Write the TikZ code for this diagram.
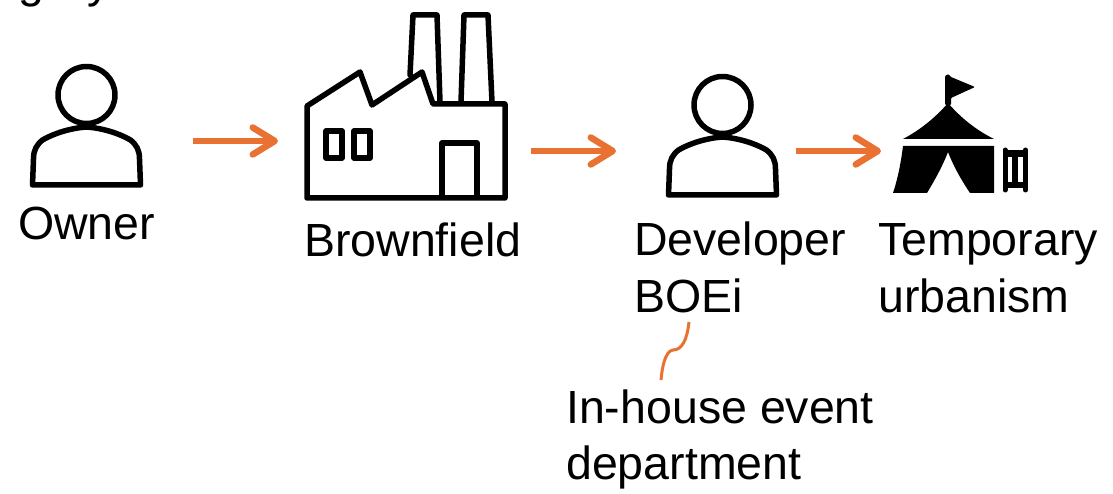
\documentclass[tikz,border=0pt]{standalone}
\usepackage{fontspec}
\setmainfont{Liberation Sans}
\usetikzlibrary{arrows.meta}
\definecolor{flowcolor}{HTML}{E97132}
\tikzset{
  label/.style={anchor=base west,inner sep=0pt,align=left,font=\fontsize{46.5}{56}\selectfont},
  icon/.style={draw=black,line width=5.5pt,line join=round,line cap=round},
  flow/.style={draw=flowcolor,line width=6.5pt,-{Straight Barb[length=22pt,width=27pt,round]}},
  personicon/.pic={
    \draw[icon] (0,0) circle (28.5) ;
    \draw[icon] (-54,90) -- (-53,64) .. controls (-53,55) and (-50,50) .. (-44,45)
      .. controls (-32,38) and (-15,33) .. (0,32)
      .. controls (15,33) and (32,38) .. (44,45)
      .. controls (50,50) and (53,55) .. (53,64) -- (54,90) -- cycle ;
  }
}
\begin{document}
\begin{tikzpicture}[x=1pt,y=-1pt]
    \useasboundingbox (0,0) rectangle (1113,494) ;

    % cut off by the top edge
    \node[label] (topg) at (18,-2) {g} ;
    \node[label] (topy) at (87,-2) {y} ;

    % owner
    \pic at (86.5,95) {personicon} ;
    \node[label] (owner) at (18,240) {Owner} ;

    % brownfield
    \draw[icon] (307,106) -- (360,72) -- (372,105) -- (422,72) -- (433,104) -- (505,104) -- (505,198) -- (307,198) -- cycle ;
    \draw[icon] (410,75) -- (413,15) -- (437,15) -- (440,102) ;
    \draw[icon] (461,102) -- (464,15) -- (488,15) -- (492,102) ;
    \draw[icon] (326,131) rectangle (342,158) ;
    \draw[icon] (354,131) rectangle (370,158) ;
    \draw[icon] (442,197) -- (442,143) -- (477,143) -- (477,197) ;
    \node[label] (brownfield) at (304,257) {Brownfield} ;

    % developer
    \pic at (722.5,105) {personicon} ;
    \node[label] (developer) at (634,312) {Developer\\BOEi} ;
    \node[label] (inhouse) at (566,479) {In-house event\\department} ;

    % tent
    \fill[rounded corners=1pt] (945,76) -- (945,105) -- (951,105) -- (951,98) -- (975,87) -- (951,77) -- (948,74) -- cycle ;
    \fill (948,103) .. controls (935,118) and (920,130) .. (903,139) -- (994,139) .. controls (976,130) and (961,118) .. (948,103) -- cycle ;
    \fill (903,146) -- (994,146) -- (994,193) -- (970,193) .. controls (960,178) and (953,165) .. (948,152)
      .. controls (943,165) and (936,178) .. (927,193) -- (893,193) .. controls (898,178) and (901,162) .. (903,146) -- cycle ;
    \draw[line width=5pt,line cap=round] (1005,150) -- (1005,190) ;
    \draw[line width=5pt,line cap=round] (1025.5,150) -- (1025.5,190) ;
    \draw[line width=7pt] (1005,153.5) -- (1025.5,153.5) ;
    \draw[line width=6pt] (1005,185) -- (1025.5,185) ;
    \draw[line width=5.5pt] (1015,153) -- (1015,185) ;
    \node[label] (temporary) at (878,312) {Temporary\\urbanism} ;

    % connectors
    \coordinate (a1) at (193,141) ;
    \coordinate (a2) at (278,141) ;
    \coordinate (b1) at (531,151) ;
    \coordinate (b2) at (616,151) ;
    \coordinate (c1) at (796,151) ;
    \coordinate (c2) at (881,151) ;
    \coordinate (d1) at (689,322) ;
    \coordinate (d2) at (661,380) ;
    \draw[flow] (a1) -- (a2) ;
    \draw[flow] (b1) -- (b2) ;
    \draw[flow] (c1) -- (c2) ;
    \draw[draw=flowcolor,line width=3pt] (d1) .. controls (687,340) and (682,350) .. (673,350)
      .. controls (665,351) and (662,368) .. (d2) ;

  \end{tikzpicture}
\end{document}
